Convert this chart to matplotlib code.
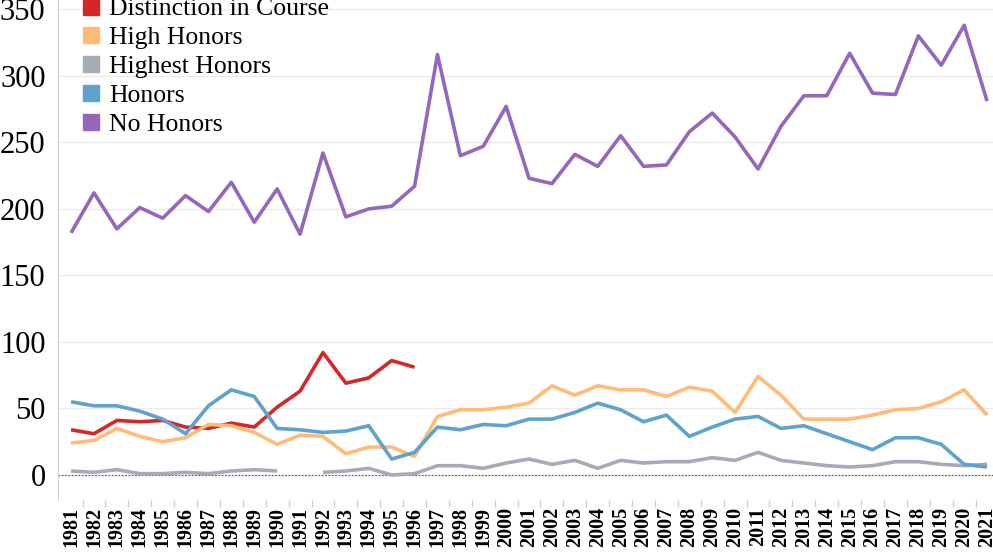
import numpy as np
import matplotlib.pyplot as plt
import matplotlib.patches as mpatches

years = list(range(1981, 2022))

# Distinction in Course only exists until 1996
distinction = [34, 31, 41, 40, 41, 36, 35, 39, 36, 51, 63, 92, 69, 73, 86, 81]
high_honors = [24, 26, 35, 29, 25, 28, 38, 37, 32, 23, 30, 29, 16, 21, 21, 14,
               44, 49, 49, 51, 54, 67, 60, 67, 64, 64, 59, 66, 63, 47, 74, 60,
               42, 42, 42, 45, 49, 50, 55, 64, 45]
highest_honors = [3, 2, 4, 1, 1, 2, 1, 3, 4, 3, np.nan, 2, 3, 5, 0, 1,
                  7, 7, 5, 9, 12, 8, 11, 5, 11, 9, 10, 10, 13, 11, 17, 11,
                  9, 7, 6, 7, 10, 10, 8, 7, 8]
honors = [55, 52, 52, 48, 42, 31, 52, 64, 59, 35, 34, 32, 33, 37, 12, 17,
          36, 34, 38, 37, 42, 42, 47, 54, 49, 40, 45, 29, 36, 42, 44, 35,
          37, 31, 25, 19, 28, 28, 23, 8, 6]
no_honors = [182, 212, 185, 201, 193, 210, 198, 220, 190, 215, 181, 242, 194, 200, 202, 217,
             316, 240, 247, 277, 223, 219, 241, 232, 255, 232, 233, 258, 272, 254, 230, 262,
             285, 285, 317, 287, 286, 330, 308, 338, 281]

labels = ["Distinction in Course", "High Honors", "Highest Honors", "Honors", "No Honors"]
colors = ["#d62728", "#ffbb78", "#a5acb8", "#5fa2ce", "#9467bd"]

fig = plt.figure(figsize=(9.93, 5.55), dpi=100)
ax = fig.add_axes([58 / 993, 55 / 555, 935 / 993, 500 / 555])

series = [distinction, high_honors, highest_honors, honors, no_honors]
for vals, c in zip(series, colors):
    ax.plot(years[:len(vals)], vals, color=c, lw=2.6, solid_capstyle="butt", zorder=3)

ax.axhline(0, color="#555555", lw=0.8, ls=(0, (1.5, 1.5)), zorder=2)
ax.set_xlim(1980.43, 2021.26)
ax.set_ylim(-18.8, 357)
ax.set_yticks(range(0, 351, 50))
ax.yaxis.grid(True, color="#ebebeb", lw=1)
ax.set_axisbelow(True)

ax.set_xticks(years)
ax.set_xticklabels([str(y) for y in years], rotation=90, fontsize=14.5,
                   fontweight="bold", family="Liberation Serif")
ax.set_xticks([y + 0.5 for y in years[:-1]], minor=True)
ax.tick_params(axis="x", which="major", length=0, pad=5)
ax.tick_params(axis="x", which="minor", length=5, color="#d0d0d0", width=1)
ax.tick_params(axis="y", length=0, pad=9)
for t in ax.get_yticklabels():
    t.set_family("Liberation Serif")
    t.set_fontsize(22)

for s in ["top", "right", "bottom"]:
    ax.spines[s].set_visible(False)
ax.spines["left"].set_color("#d0d0d0")

handles = [mpatches.Patch(color=c, label=l) for c, l in zip(colors, labels)]
ax.legend(handles=handles, loc="upper left", bbox_to_anchor=(0.016, 1.024),
          frameon=False, prop={"family": "Liberation Serif", "size": 18.5},
          handlelength=0.6, handleheight=0.6, handletextpad=0.42,
          labelspacing=0.26, borderaxespad=0)

fig.savefig("out.png", dpi=100)
